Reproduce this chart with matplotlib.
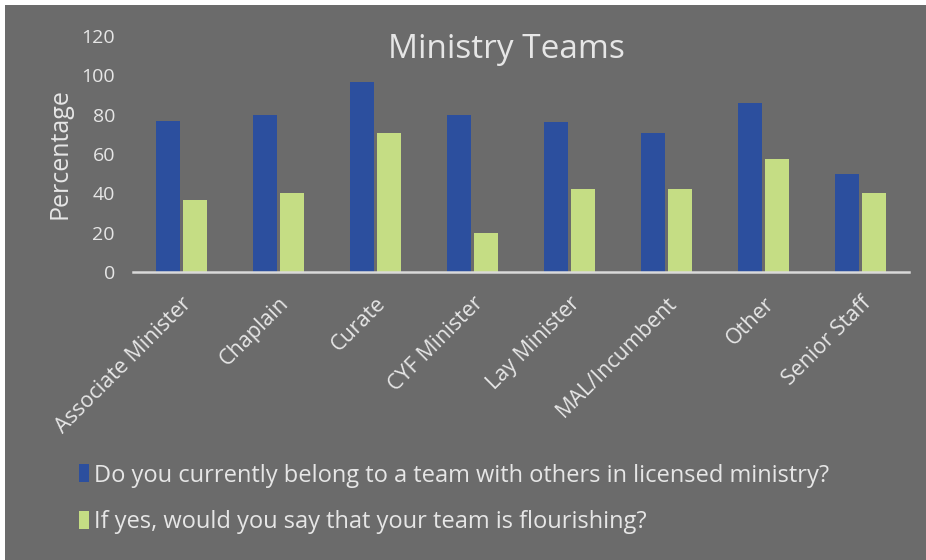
import numpy as np
import matplotlib.pyplot as plt
from matplotlib.patches import Rectangle

plt.rcParams['font.family'] = ['Open Sans', 'DejaVu Sans']

# Data
roles = ["Associate Minister", "Chaplain", "Curate", "CYF Minister",
         "Lay Minister", "MAL/Incumbent", "Other", "Senior Staff"]
in_team = [77, 80, 96.5, 80, 76, 70.5, 86, 50]
flourishing = [36.5, 40, 70.5, 20, 42, 42, 57.5, 40]
series_names = ["Do you currently belong to a team with others in licensed ministry?",
                "If yes, would you say that your team is flourishing?"]
y_ticks = [0, 20, 40, 60, 80, 100, 120]

bg = '#6b6b6b'
txt = '#e6e6e6'
blue = '#2c4f9e'
green = '#c5dd84'

fig = plt.figure(figsize=(9.26, 5.6), dpi=100, facecolor='white')
# grey card with a thin white margin at top and left
fig.patches.append(Rectangle((5 / 926, 0), 1, 1 - 5 / 560, transform=fig.transFigure,
                             facecolor=bg, edgecolor='none', zorder=-10))

ax = fig.add_axes([0.1436, 0.514, 0.838, 0.422])
ax.set_facecolor(bg)

x = np.arange(len(roles))
w = 0.24
b1 = ax.bar(x - w / 2 - 0.02, in_team, w, color=blue, label=series_names[0])
b2 = ax.bar(x + w / 2 + 0.02, flourishing, w, color=green, label=series_names[1])

ax.set_xlim(-0.5, len(roles) - 0.5)
ax.set_ylim(0, 120)
ax.set_yticks(y_ticks)
ax.set_xticks(x)
ax.set_xticklabels(roles, rotation=45, ha='right', rotation_mode='anchor')
ax.tick_params(axis='y', length=0, colors=txt, labelsize=14, pad=13)
ax.tick_params(axis='x', length=0, colors=txt, labelsize=15.5, pad=15)

for s in ['top', 'right', 'left']:
    ax.spines[s].set_visible(False)
ax.spines['bottom'].set_color('#d9d9d9')
ax.spines['bottom'].set_linewidth(1.8)

ax.set_ylabel('Percentage', color=txt, fontsize=18, labelpad=6)
fig.text(506 / 926, 1 - 50 / 560, 'Ministry Teams', color=txt, fontsize=24,
         ha='center', va='center')

fig.legend(handles=[b1, b2], loc='upper left', bbox_to_anchor=(0.062, 0.21),
           frameon=False, fontsize=17, labelcolor=txt, handlelength=0.45,
           handleheight=0.8, handletextpad=0.2, labelspacing=0.95)

fig.savefig('out.png', dpi=100, facecolor='white')
